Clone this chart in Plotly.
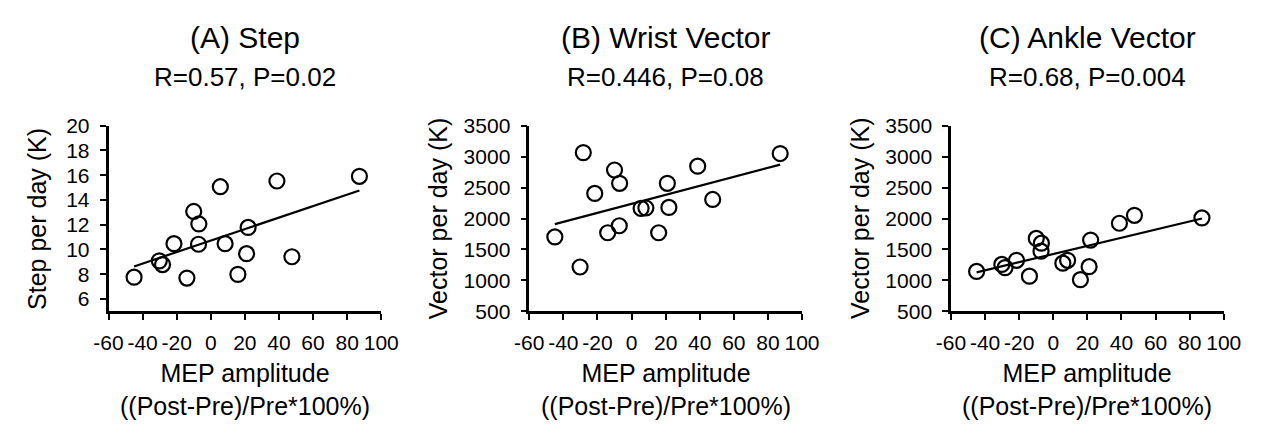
import plotly.graph_objects as go

W, H = 1270, 437
FONT = "Liberation Sans, Arial, sans-serif"

# ---- data ----
mep = [-45.0, -30.2, -28.3, -21.6, -14.0, -10.0, -7.0, -7.2, 5.6, 8.4, 15.9, 21.0, 21.9, 38.8, 47.6, 87.2]
steps = [7.76, 9.08, 8.78, 10.47, 7.69, 13.07, 12.06, 10.42, 15.07, 10.47, 7.99, 9.66, 11.78, 15.53, 9.41, 15.91]
wrist = [1703, 1217, 3065, 2405, 1770, 2784, 2569, 1883, 2164, 2170, 1770, 2569, 2179, 2846, 2308, 3050]
ankle = [1145, 1258, 1207, 1325, 1069, 1678, 1602, 1472, 1279, 1325, 1012, 1222, 1652, 1924, 2052, 2010]

trend_x = [-45.0, 87.2]
steps_trend = [8.63, 14.77]
wrist_trend = [1909, 2870]
ankle_trend = [1130, 2000]

titles = ["(A) Step", "(B) Wrist Vector", "(C) Ankle Vector"]
stats = ["R=0.57, P=0.02", "R=0.446, P=0.08", "R=0.68, P=0.004"]
ytitles = ["Step per day (K)", "Vector per day (K)", "Vector per day (K)"]
xtitle = "MEP amplitude<br>((Post-Pre)/Pre*100%)"
x_ticks = [-60, -40, -20, 0, 20, 40, 60, 80, 100]
x_ticktext = ["-60", "-40", "-20", "0", "20", "40", "60", "80", "100"]
steps_ticks = [6, 8, 10, 12, 14, 16, 18, 20]
vector_ticks = [500, 1000, 1500, 2000, 2500, 3000, 3500]

# ---- layout geometry (pixels) ----
left_px = [96, 528, 961]
plot_w = 280
top_px, bottom_px = 120, 316
ytitle_px = [22, 434, 867]
yranges = [[5, 20], [500, 3500], [500, 3500]]
ytickvals = [steps_ticks, vector_ticks, vector_ticks]
yvals = [steps, wrist, ankle]
trends = [steps_trend, wrist_trend, ankle_trend]

def px_x(px):
    return px / W

def px_y(py):
    return 1 - py / H

fig = go.Figure()
annotations = []
for i in range(3):
    ax = "" if i == 0 else str(i + 1)
    xa, ya = "x" + ax, "y" + ax
    fig.add_trace(go.Scatter(
        x=mep, y=yvals[i], mode="markers", xaxis=xa, yaxis=ya,
        marker=dict(symbol="circle-open", size=15, color="black", line=dict(width=2.2, color="black")),
        showlegend=False, cliponaxis=False))
    fig.add_trace(go.Scatter(
        x=trend_x, y=trends[i], mode="lines", xaxis=xa, yaxis=ya,
        line=dict(color="black", width=2.2), showlegend=False))
    x0 = px_x(left_px[i]); x1 = px_x(left_px[i] + plot_w)
    common = dict(showline=True, linecolor="black", linewidth=2.5, ticks="outside",
                  ticklen=6, tickwidth=2, tickcolor="black", showgrid=False, zeroline=False,
                  tickfont=dict(family=FONT, size=21, color="black"))
    fig.update_layout(**{
        "xaxis" + ax: dict(domain=[x0, x1], range=[-60, 100], tickvals=x_ticks,
                           ticktext=x_ticktext, tickangle=0, anchor=ya,
                           ticklabelstandoff=5, **common),
        "yaxis" + ax: dict(domain=[px_y(bottom_px), px_y(top_px)], range=yranges[i],
                           tickvals=ytickvals[i], anchor=xa, ticklabelstandoff=6, **common),
    })
    cx = px_x(left_px[i] + plot_w / 2)
    annotations += [
        dict(text=titles[i], x=cx, y=px_y(27), xref="paper", yref="paper",
             showarrow=False, xanchor="center", yanchor="middle",
             font=dict(family=FONT, size=30, color="black")),
        dict(text=stats[i], x=cx, y=px_y(69), xref="paper", yref="paper",
             showarrow=False, xanchor="center", yanchor="middle",
             font=dict(family=FONT, size=26, color="black")),
        dict(text=xtitle, x=cx, y=px_y(398), xref="paper", yref="paper",
             showarrow=False, xanchor="center", yanchor="middle",
             font=dict(family=FONT, size=25, color="black")),
        dict(text=ytitles[i], x=px_x(ytitle_px[i]), y=px_y((top_px + bottom_px) / 2),
             xref="paper", yref="paper", showarrow=False, textangle=-90,
             xanchor="center", yanchor="middle",
             font=dict(family=FONT, size=25, color="black")),
    ]

fig.update_layout(width=W, height=H, margin=dict(l=0, r=0, t=0, b=0),
                  paper_bgcolor="white", plot_bgcolor="white",
                  annotations=annotations, showlegend=False)
fig.write_html("out.html")
